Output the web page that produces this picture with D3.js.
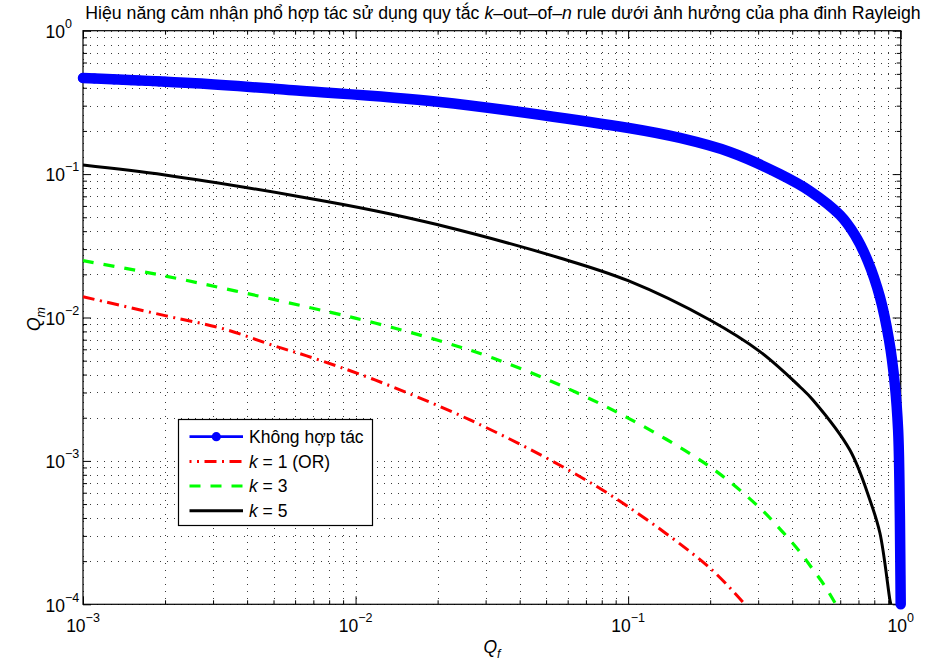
<!DOCTYPE html>
<html><head><meta charset="utf-8">
<script src="https://cdn.jsdelivr.net/npm/d3@7"></script>
<style>body{margin:0;background:#fff}svg{display:block}text{font-family:"Liberation Sans",Arial,Helvetica,sans-serif}</style>
</head><body><svg id="c" width="928" height="666"></svg>
<script>
// ---- data ----
const xMajorExps = [-3, -2, -1, 0];
const yMajorExps = [-4, -3, -2, -1, 0];

const blueQf = [0.001, 0.00258, 0.00625, 0.02, 0.1017, 0.1549, 0.2362, 0.3597, 0.4645, 0.598, 0.679, 0.757, 0.839, 0.906, 0.952, 0.9785, 0.989, 0.9966, 1.0];
const blueQm = [0.468, 0.43, 0.3816, 0.3198, 0.2087, 0.1786, 0.1426, 0.1002, 0.0762, 0.0519, 0.0376, 0.0248, 0.0139, 0.00697, 0.00339, 0.00164, 0.000736, 0.000204, 0.0001];

// individually visible markers at the start of the non-cooperative curve
const blueMarkQf = [0.001, 0.0011, 0.0012, 0.0013, 0.0014, 0.0015, 0.0016, 0.0017, 0.0018, 0.0019, 0.002];
const blueMarkQm = [0.468, 0.464, 0.4605, 0.457, 0.454, 0.451, 0.4487, 0.4462, 0.444, 0.4418, 0.4398];

const redQf = [0.001, 0.002, 0.00327, 0.00506, 0.00662, 0.01178, 0.0263, 0.0586, 0.1, 0.1995, 0.268];
const redQm = [0.01396, 0.0103, 0.00835, 0.00632, 0.0054, 0.00367, 0.00193, 0.000892, 0.000479, 0.000179, 0.0001];

const greenQf = [0.001, 0.002, 0.0069, 0.01178, 0.0199, 0.0319, 0.0562, 0.1, 0.1995, 0.3045, 0.3665, 0.4268, 0.4722, 0.527, 0.578];
const greenQm = [0.0249, 0.01948, 0.01165, 0.00915, 0.00696, 0.00522, 0.00338, 0.00199, 0.000911, 0.000469, 0.000324, 0.000232, 0.000179, 0.000134, 0.0001];

const blackQf = [0.001, 0.002, 0.00625, 0.01178, 0.0199, 0.0562, 0.1, 0.1995, 0.3045, 0.4268, 0.4764, 0.651, 0.771, 0.839, 0.913, 0.92];
const blackQm = [0.1157, 0.0986, 0.0696, 0.0556, 0.0445, 0.026, 0.01805, 0.0096, 0.00578, 0.00329, 0.00266, 0.00119, 0.000534, 0.000314, 0.000107, 0.0001];

const titleParts = [["Hiệu năng cảm nhận phổ hợp tác sử dụng quy tắc ", false], ["k", true], ["–out–of–", false], ["n", true], [" rule dưới ảnh hưởng của pha đinh Rayleigh", false]];
const legendLabels = [[["Không hợp tác", false]], [["k", true], [" = 1 (OR)", false]], [["k", true], [" = 3", false]], [["k", true], [" = 5", false]]];

// ---- drawing ----
const svg = d3.select("#c");
const L = 83, R = 900.7, T = 30.7, B = 604.3;
const x = d3.scaleLog().domain([1e-3, 1]).range([L, R]);
const y = d3.scaleLog().domain([1e-4, 1]).range([B, T]);

const xMaj = xMajorExps.map(e => Math.pow(10, e));
const yMaj = yMajorExps.map(e => Math.pow(10, e));
const minors = exps => { const out = []; exps.slice(0, -1).forEach(e => { for (let m = 2; m <= 9; m++) out.push(m * Math.pow(10, e)); }); return out; };
const xMin = minors(xMajorExps), yMin = minors(yMajorExps);

// grid
const grid = svg.append("g").attr("stroke", "#3a3a3a").attr("stroke-width", 1).attr("stroke-dasharray", "1,6").attr("shape-rendering", "crispEdges");
xMaj.concat(xMin).forEach(v => grid.append("line").attr("x1", Math.round(x(v)) + 0.5).attr("x2", Math.round(x(v)) + 0.5).attr("y1", T).attr("y2", B));
yMaj.concat(yMin).forEach(v => grid.append("line").attr("y1", Math.round(y(v)) + 0.5).attr("y2", Math.round(y(v)) + 0.5).attr("x1", L).attr("x2", R));

// ticks via d3 axes
function addAxis(gen, tr, vals, size) {
  const g = svg.append("g").attr("transform", tr).call(gen.tickValues(vals).tickSizeInner(size).tickSizeOuter(0).tickFormat(() => ""));
  g.select(".domain").remove();
  g.selectAll("line").attr("stroke", "#000");
}
addAxis(d3.axisBottom(x), `translate(0,${B})`, xMaj, -8);
addAxis(d3.axisBottom(x), `translate(0,${B})`, xMin, -4);
addAxis(d3.axisTop(x), `translate(0,${T})`, xMaj, -8);
addAxis(d3.axisTop(x), `translate(0,${T})`, xMin, -4);
addAxis(d3.axisLeft(y), `translate(${L},0)`, yMaj, -8);
addAxis(d3.axisLeft(y), `translate(${L},0)`, yMin, -4);
addAxis(d3.axisRight(y), `translate(${R},0)`, yMaj, -8);
addAxis(d3.axisRight(y), `translate(${R},0)`, yMin, -4);

svg.append("rect").attr("x", L).attr("y", T).attr("width", R - L).attr("height", B - T).attr("fill", "none").attr("stroke", "#000").attr("stroke-width", 1.2);

// tick labels
const fmtExp = e => (e < 0 ? "\u2212" + (-e) : "" + e);
xMajorExps.forEach(e => {
  const t = svg.append("text").attr("x", x(Math.pow(10, e))).attr("y", 632).attr("text-anchor", "middle").attr("font-size", 17.5);
  t.append("tspan").text("10");
  t.append("tspan").attr("font-size", 12.5).attr("dy", -10).text(fmtExp(e));
});
yMajorExps.forEach(e => {
  const t = svg.append("text").attr("x", 45.5).attr("y", y(Math.pow(10, e)) + 7.3).attr("font-size", 17.5);
  t.append("tspan").text("10");
  t.append("tspan").attr("font-size", 12.5).attr("dy", -10).text(fmtExp(e));
});

// axis labels
const xl = svg.append("text").attr("x", 492).attr("y", 653).attr("text-anchor", "middle").attr("font-size", 17.5).attr("font-style", "italic");
xl.append("tspan").text("Q");
xl.append("tspan").attr("font-size", 12.5).attr("dy", 5).text("f");
const yl = svg.append("text").attr("transform", "translate(39.5,319) rotate(-90)").attr("text-anchor", "middle").attr("font-size", 17.5).attr("font-style", "italic");
yl.append("tspan").text("Q");
yl.append("tspan").attr("font-size", 12.5).attr("dy", 5).text("m");

// title
const tt = svg.append("text").attr("x", 503).attr("y", 18.5).attr("text-anchor", "middle").attr("font-size", 17.7);
titleParts.forEach(p => tt.append("tspan").attr("font-style", p[1] ? "italic" : "normal").text(p[0]));

// curves
const line = d3.line().x(d => x(d[0])).y(d => y(d[1])).curve(d3.curveCatmullRom.alpha(0.5));
const zip = (a, b) => a.map((v, i) => [v, b[i]]);
const series = [
  { qf: redQf, qm: redQm, color: "#ff0000", dash: "12,5.5,2,5.5", w: 3 },
  { qf: greenQf, qm: greenQm, color: "#00ff00", dash: "11,10", w: 3.2 },
  { qf: blackQf, qm: blackQm, color: "#000000", dash: null, w: 3 }
];
// blue thick band (dense markers)
svg.append("path").attr("d", line(zip(blueQf, blueQm))).attr("fill", "none").attr("stroke", "#0000ff").attr("stroke-width", 10.5).attr("stroke-linecap", "round").attr("stroke-linejoin", "round");
svg.append("g").selectAll("circle").data(zip(blueMarkQf, blueMarkQm)).join("circle")
  .attr("cx", d => x(d[0])).attr("cy", d => y(d[1])).attr("r", 5).attr("fill", "#0000ff");
series.forEach(s => {
  svg.append("path").attr("d", line(zip(s.qf, s.qm))).attr("fill", "none").attr("stroke", s.color).attr("stroke-width", s.w)
    .attr("stroke-dasharray", s.dash).attr("stroke-linejoin", "round");
});

// legend
const lg = svg.append("g");
lg.append("rect").attr("x", 178.5).attr("y", 419.5).attr("width", 194).attr("height", 106).attr("fill", "#fff").attr("stroke", "#000").attr("stroke-width", 1.2);
const rowY = [436.7, 461.5, 486, 510.7];
const legStyles = [
  { color: "#0000ff", dash: null, w: 2.8, marker: true },
  { color: "#ff0000", dash: "12,5.5,2,5.5", w: 3, dashOffset: -15 },
  { color: "#00ff00", dash: "11,10", w: 3.2 },
  { color: "#000000", dash: null, w: 3 }
];
legendLabels.forEach((parts, i) => {
  const st = legStyles[i];
  lg.append("line").attr("x1", 189.5).attr("x2", 243).attr("y1", rowY[i]).attr("y2", rowY[i]).attr("stroke", st.color)
    .attr("stroke-width", st.w).attr("stroke-dasharray", st.dash).attr("stroke-dashoffset", st.dashOffset || 0);
  if (st.marker) lg.append("circle").attr("cx", 216.3).attr("cy", rowY[i]).attr("r", 4.6).attr("fill", st.color);
  const t = lg.append("text").attr("x", 249).attr("y", rowY[i] + 6).attr("font-size", 17.5);
  parts.forEach(p => t.append("tspan").attr("font-style", p[1] ? "italic" : "normal").text(p[0]));
});
</script>
</body></html>
